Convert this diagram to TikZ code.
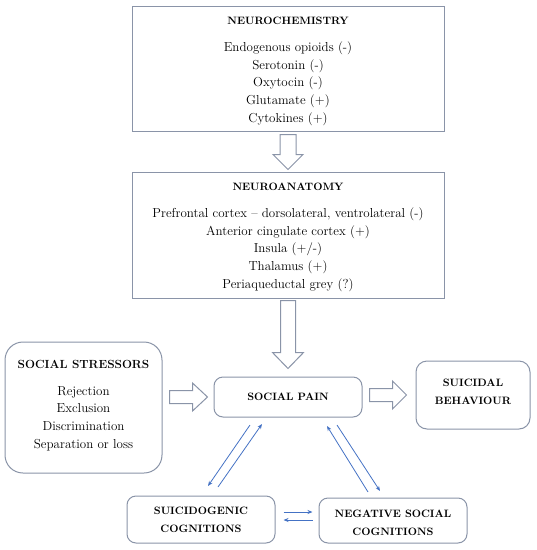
\documentclass[tikz,border=0pt]{standalone}
\usetikzlibrary{calc,arrows.meta}
\definecolor{boxc}{RGB}{138,148,168}
\definecolor{arrc}{RGB}{68,114,196}
\tikzset{
  box/.style={draw=boxc,line width=1pt,fill=white,inner sep=0pt,align=center,
    font=\fontsize{13}{17.7}\selectfont},
  rbox/.style={box,rounded corners=9pt},
  txt/.style={inner sep=0pt,align=center,font=\fontsize{13}{17.7}\selectfont},
  hollow/.style={draw=boxc,line width=1pt,fill=white,line join=miter},
  thin/.style={draw=arrc,line width=0.8pt,-{Stealth[length=5pt,width=4pt]}},
  tbox/.style={font=\fontsize{10.7}{18}\selectfont\bfseries},
}
\newcommand{\ttl}[1]{{\fontsize{10.7}{12}\selectfont\bfseries #1}}
\begin{document}
\begin{tikzpicture}[x=1pt,y=-1pt]
\useasboundingbox (0,0) rectangle (537,550);
% boxes
\node[box,minimum width=312pt,minimum height=125pt] (nc) at (288,68.5) {};
\node[txt] (nct) at (288,71.5)
  {\ttl{NEUROCHEMISTRY}\\[9pt]Endogenous opioids (-)\\Serotonin (-)\\Oxytocin (-)\\Glutamate (+)\\Cytokines (+)};
\node[box,minimum width=312pt,minimum height=126pt] (na) at (288,235) {};
\node[txt] (nat) at (288,237.5)
  {\ttl{NEUROANATOMY}\\[9pt]Prefrontal cortex -- dorsolateral, ventrolateral (-)\\Anterior cingulate cortex (+)\\Insula (+/-)\\Thalamus (+)\\Periaqueductal grey (?)};
\node[rbox,rounded corners=18pt,minimum width=157pt,minimum height=131pt] (ss) at (83.5,407.5) {};
\node[txt] (sst) at (83.5,405.5)
  {{\fontsize{11.8}{12}\selectfont\bfseries SOCIAL STRESSORS}\\[9pt]Rejection\\Exclusion\\Discrimination\\Separation or loss};
\node[rbox,minimum width=148pt,minimum height=40pt] (sp) at (288,397) {\ttl{SOCIAL PAIN}};
\node[rbox,tbox,rounded corners=11pt,minimum width=114pt,minimum height=68pt] (sb) at (473,395) {};
\node[txt,tbox] (sbt) at (473,392) {SUICIDAL\\BEHAVIOUR};
\node[rbox,tbox,minimum width=148pt,minimum height=47pt] (sc) at (201,519.5)
  {SUICIDOGENIC\\COGNITIONS};
\node[rbox,tbox,minimum width=148pt,minimum height=45pt] (ns) at (393,520.5) {};
\node[txt,tbox] (nst) at (393,522.5) {NEGATIVE SOCIAL\\COGNITIONS};
% hollow arrows (vertical)
\draw[hollow] let \p1=($(nc.south)+(0,3)$), \p2=($(na.north)+(0,-2)$) in
  (\x1-8pt,\y1) -- (\x1+8pt,\y1) -- (\x1+8pt,\y2+15pt) -- (\x1+15pt,\y2+15pt)
  -- (\x1,\y2) -- (\x1-15pt,\y2+15pt) -- (\x1-8pt,\y2+15pt) -- cycle;
\draw[hollow] let \p1=($(na.south)+(0,2)$), \p2=($(sp.north)+(0,-8)$) in
  (\x1-7.5pt,\y1) -- (\x1+7.5pt,\y1) -- (\x1+7.5pt,\y2+16pt) -- (\x1+15.5pt,\y2+16pt)
  -- (\x1,\y2) -- (\x1-15.5pt,\y2+16pt) -- (\x1-7.5pt,\y2+16pt) -- cycle;
% hollow arrows (horizontal)
\draw[hollow] let \p1=($(ss.east)+(7,-11.5)$), \p2=($(sp.west)+(-6,0)$) in
  (\x1,\y2+6.5pt) -- (\x2-15pt,\y2+6.5pt) -- (\x2-15pt,\y2+14pt) -- (\x2,\y2)
  -- (\x2-15pt,\y2-14pt) -- (\x2-15pt,\y2-6.5pt) -- (\x1,\y2-6.5pt) -- cycle;
\draw[hollow] let \p1=($(sp.east)+(7,0)$), \p2=($(sb.west)+(-9,0)$) in
  (\x1,\y2+6.5pt) -- (\x2-14pt,\y2+6.5pt) -- (\x2-14pt,\y2+14pt) -- (\x2,\y2)
  -- (\x2-14pt,\y2-14pt) -- (\x2-14pt,\y2-6.5pt) -- (\x1,\y2-6.5pt) -- cycle;
% thin blue arrows
\coordinate (a1s) at (250,425); \coordinate (a1e) at (208,486);
\coordinate (a2s) at (218,487); \coordinate (a2e) at (262,424);
\coordinate (a3s) at (368,492); \coordinate (a3e) at (327,426);
\coordinate (a4s) at (337,425); \coordinate (a4e) at (380,491);
\draw[thin] (a1s) -- (a1e);
\draw[thin] (a2s) -- (a2e);
\draw[thin] (a3s) -- (a3e);
\draw[thin] (a4s) -- (a4e);
\draw[thin] ($(sc.east)+(8,-7.5)$) -- ($(ns.west)+(-6,-8.5)$);
\draw[thin] ($(ns.west)+(-6,-0.5)$) -- ($(sc.east)+(8,0.5)$);
\end{tikzpicture}
\end{document}
